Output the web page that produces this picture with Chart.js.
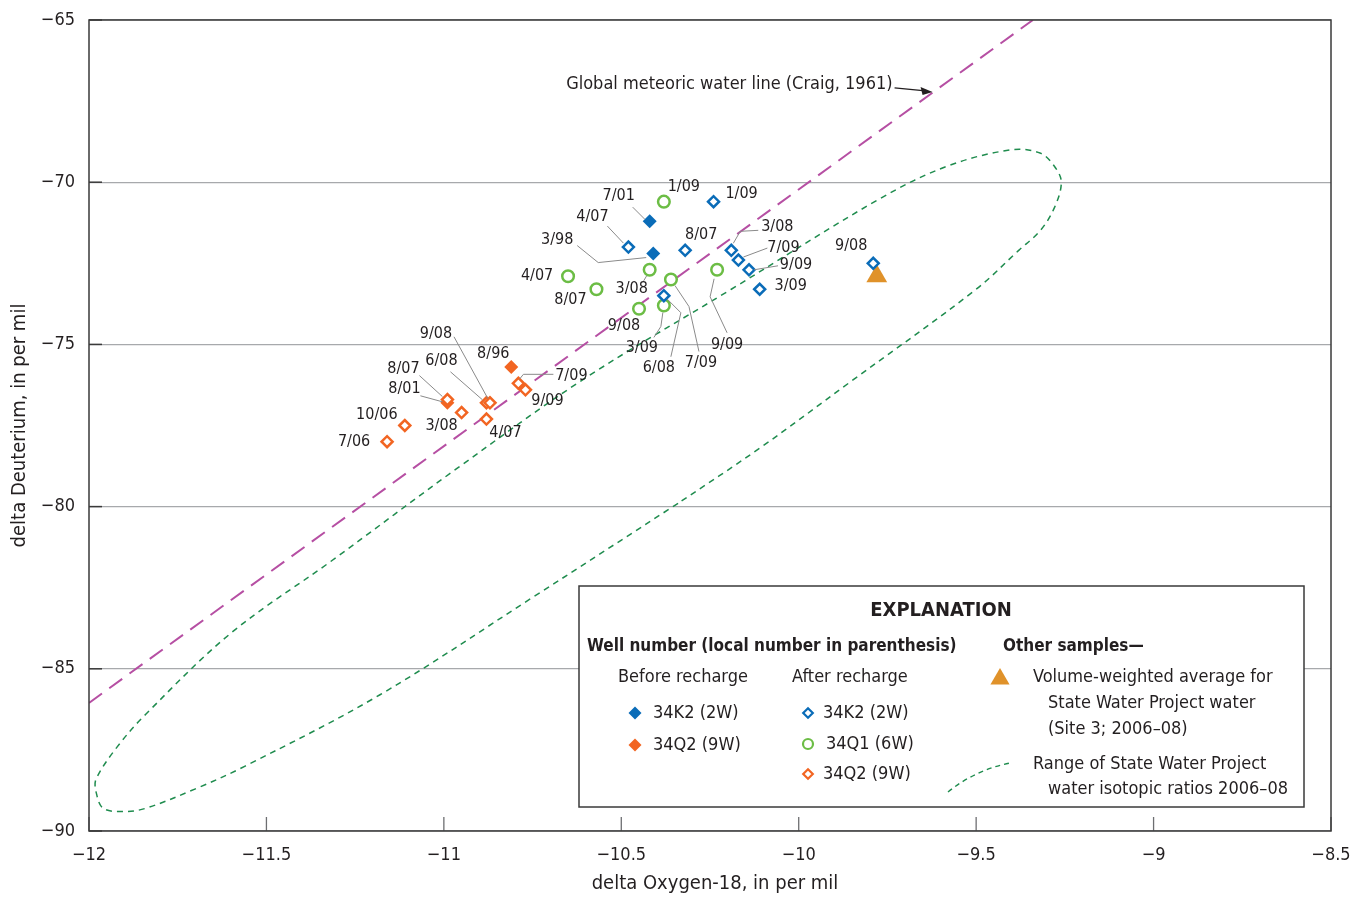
<!DOCTYPE html>
<html>
<head>
<meta charset="utf-8">
<script src="https://cdn.jsdelivr.net/npm/chart.js@4.4.1/dist/chart.umd.min.js"></script>
<style>
  html, body { margin: 0; padding: 0; background: #fff; }
</style>
</head>
<body>
<canvas id="isoChart" width="1355" height="897"></canvas>
<script>
// delta O-18 (x) / delta D (y), per mil

// 34K2 (2W) before recharge
const k2BeforeX = [-10.42, -10.41];
const k2BeforeY = [-71.2, -72.2];
const k2BeforeDates = ['7/01', '3/98'];

// 34K2 (2W) after recharge
const k2AfterX = [-10.24, -10.48, -10.32, -10.19, -10.17, -10.14, -10.11, -9.79, -10.38];
const k2AfterY = [-70.6, -72.0, -72.1, -72.1, -72.4, -72.7, -73.3, -72.5, -73.5];
const k2AfterDates = ['1/09', '4/07', '8/07', '3/08', '7/09', '9/09', '3/09', '9/08', '6/08'];

// 34Q1 (6W) after recharge
const q1AfterX = [-10.38, -10.65, -10.57, -10.42, -10.36, -10.23, -10.45, -10.38];
const q1AfterY = [-70.6, -72.9, -73.3, -72.7, -73.0, -72.7, -73.9, -73.8];
const q1AfterDates = ['1/09', '4/07', '8/07', '3/08', '7/09', '9/09', '9/08', '3/09'];

// 34Q2 (9W) before recharge
const q2BeforeX = [-10.81, -10.99];
const q2BeforeY = [-75.7, -76.8];
const q2BeforeDates = ['8/96', '8/01'];

// 34Q2 (9W) after recharge
const q2AfterX = [-10.79, -10.77, -10.99, -10.88, -10.87, -10.95, -10.88, -11.11, -11.16];
const q2AfterY = [-76.2, -76.4, -76.7, -76.8, -76.8, -77.1, -77.3, -77.5, -78.0];
const q2AfterDates = ['7/09', '9/09', '8/07', '6/08', '9/08', '3/08', '4/07', '10/06', '7/06'];

// State Water Project, volume-weighted average (Site 3; 2006-08)
const swpAvgX = [-9.78];
const swpAvgY = [-72.9];

// Global meteoric water line (Craig, 1961), end points as drawn
const gmwlX = [-12, -9.34];
const gmwlY = [-86.05, -65];

// Range of SWP isotopic ratios 2006-08 (outline)
const swpRangeX = [-10.34, -10.75, -11.18, -11.56, -11.70, -11.84, -11.90, -11.96, -11.98, -11.98,
  -11.92, -11.84, -11.60, -11.32, -10.96, -10.61, -10.19, -9.77, -9.58, -9.40, -9.32, -9.28,
  -9.26, -9.28, -9.32, -9.38, -9.50, -9.86, -10.11, -10.34];
const swpRangeY = [-79.9, -82.8, -85.8, -88.0, -88.7, -89.3, -89.4, -89.3, -88.8, -88.4,
  -87.4, -86.4, -83.9, -81.7, -78.8, -76.1, -73.3, -70.5, -69.5, -69.0, -69.1, -69.5,
  -70.0, -70.8, -71.5, -72.1, -73.3, -76.2, -78.2, -79.9];

const xTicks = [-12, -11.5, -11, -10.5, -10, -9.5, -9, -8.5];
const yTicks = [-90, -85, -80, -75, -70, -65];

// sample date labels: [series, index, dx, dy, leader offsets in px]
const dateLabels = [
  ['k2After', 0, 28, -8], ['k2After', 1, -36, -30, [[-21, -21], [-5, -4]]],
  ['k2After', 2, 16, -15], ['k2After', 3, 46, -23, [[27, -20], [9, -19], [2, -7]]],
  ['k2After', 4, 45, -12, [[29, -12], [5, -3]]], ['k2After', 5, 47, -5, [[29, -4], [5, 0]]],
  ['k2After', 6, 31, -3], ['k2After', 7, -22, -17],
  ['k2After', 8, -5, 72, [[7, 61], [17, 17], [3, 3]]],
  ['k2Before', 0, -31, -25, [[-17, -14], [-5, -2]]],
  ['k2Before', 1, -96, -14, [[-76, -8], [-55, 9], [-7, 4]]],
  ['q1After', 0, 20, -15], ['q1After', 1, -31, 0], ['q1After', 2, -26, 11],
  ['q1After', 3, -18, 19, [[-6, 11], [-3, 6]]],
  ['q1After', 4, 30, 83, [[28, 72], [18, 27], [4, 6]]],
  ['q1After', 5, 10, 75, [[10, 63], [-7, 27], [-3, 9]]],
  ['q1After', 6, -15, 17], ['q1After', 7, -22, 42, [[-10, 32], [-3, 21], [-1, 7]]],
  ['q2Before', 0, -18, -13], ['q2Before', 1, -43, -14, [[-27, -7], [-5, -1]]],
  ['q2After', 0, 53, -7, [[35, -9], [5, -9], [1, -4]]], ['q2After', 1, 22, 11],
  ['q2After', 2, -44, -31, [[-28, -24], [-5, -3]]],
  ['q2After', 3, -45, -42, [[-36, -31], [-4, -3]]],
  ['q2After', 4, -54, -69, [[-36, -66], [-2, -4]]],
  ['q2After', 5, -20, 13], ['q2After', 6, 19, 14], ['q2After', 7, -28, -11], ['q2After', 8, -33, 0]
];

const BLUE = '#0a6cb8';
const GREEN = '#6cbd45';
const ORANGE = '#f26522';
const GOLD = '#e0922a';
const MAGENTA = '#b64fa3';
const DKGREEN = '#1f8c4e';
const INK = '#231f20';
const FONT = "'Liberation Sans Narrow', 'DejaVu Sans Condensed', 'Liberation Sans', sans-serif";

function pts(xs, ys) {
  return xs.map((x, i) => ({ x: x, y: ys[i] }));
}

const series = {
  k2Before: { x: k2BeforeX, y: k2BeforeY, d: k2BeforeDates },
  k2After: { x: k2AfterX, y: k2AfterY, d: k2AfterDates },
  q1After: { x: q1AfterX, y: q1AfterY, d: q1AfterDates },
  q2Before: { x: q2BeforeX, y: q2BeforeY, d: q2BeforeDates },
  q2After: { x: q2AfterX, y: q2AfterY, d: q2AfterDates }
};

function minus(v) {
  return String(v).replace('-', '\u2212');
}

function marker(ctx, style, x, y, r, color, filled) {
  ctx.save();
  ctx.beginPath();
  if (style === 'diamond') {
    ctx.moveTo(x, y - r); ctx.lineTo(x + r, y); ctx.lineTo(x, y + r); ctx.lineTo(x - r, y); ctx.closePath();
  } else if (style === 'circle') {
    ctx.arc(x, y, r, 0, Math.PI * 2);
  } else {
    ctx.moveTo(x, y - r); ctx.lineTo(x + r * 0.87, y + r * 0.5); ctx.lineTo(x - r * 0.87, y + r * 0.5); ctx.closePath();
  }
  if (filled) {
    ctx.fillStyle = color; ctx.fill();
  } else {
    ctx.fillStyle = '#fff'; ctx.fill();
    ctx.lineWidth = 2.2; ctx.strokeStyle = color; ctx.stroke();
  }
  ctx.restore();
}

const decorPlugin = {
  id: 'decor',
  beforeDatasetsDraw(chart) {
    const ctx = chart.ctx;
    const a = chart.chartArea;
    const xs = chart.scales.x;
    ctx.save();
    ctx.strokeStyle = '#6d6e71';
    ctx.lineWidth = 1.3;
    xTicks.forEach(v => {
      const px = xs.getPixelForValue(v);
      ctx.beginPath(); ctx.moveTo(px, a.bottom); ctx.lineTo(px, a.bottom - 14); ctx.stroke();
    });
    ctx.restore();
  },
  afterDraw(chart) {
    const ctx = chart.ctx;
    const a = chart.chartArea;
    const xs = chart.scales.x;
    const ys = chart.scales.y;

    // left inward ticks and frame
    ctx.save();
    ctx.strokeStyle = '#3a3a3a';
    ctx.lineWidth = 1.5;
    yTicks.forEach(v => {
      const py = ys.getPixelForValue(v);
      ctx.beginPath(); ctx.moveTo(a.left, py); ctx.lineTo(a.left + 13, py); ctx.stroke();
    });
    ctx.strokeRect(a.left, a.top, a.right - a.left, a.bottom - a.top);
    ctx.restore();

    // date labels with leader lines
    ctx.save();
    ctx.font = '16px ' + FONT;
    ctx.fillStyle = INK;
    ctx.textAlign = 'center';
    ctx.textBaseline = 'middle';
    dateLabels.forEach(l => {
      const s = series[l[0]];
      const px = xs.getPixelForValue(s.x[l[1]]);
      const py = ys.getPixelForValue(s.y[l[1]]);
      if (l[4]) {
        ctx.strokeStyle = '#8a8a8a';
        ctx.lineWidth = 1;
        ctx.beginPath();
        l[4].forEach((o, j) => {
          if (j === 0) ctx.moveTo(px + o[0], py + o[1]);
          else ctx.lineTo(px + o[0], py + o[1]);
        });
        ctx.stroke();
      }
      ctx.fillText(s.d[l[1]], px + l[2], py + l[3]);
    });
    ctx.restore();

    // GMWL callout with arrow pointing at the line
    const tipVal = -9.62;
    const t = (tipVal - gmwlX[0]) / (gmwlX[1] - gmwlX[0]);
    const tipX = xs.getPixelForValue(tipVal);
    const tipY = ys.getPixelForValue(gmwlY[0] + t * (gmwlY[1] - gmwlY[0]));
    ctx.save();
    ctx.font = '18px ' + FONT;
    ctx.fillStyle = INK;
    ctx.textAlign = 'right';
    ctx.textBaseline = 'middle';
    ctx.fillText('Global meteoric water line (Craig, 1961)', tipX - 41, tipY - 8);
    ctx.strokeStyle = INK;
    ctx.lineWidth = 1.2;
    ctx.beginPath(); ctx.moveTo(tipX - 39, tipY - 4); ctx.lineTo(tipX - 8, tipY - 1); ctx.stroke();
    ctx.fillStyle = INK;
    ctx.beginPath();
    ctx.moveTo(tipX - 1, tipY); ctx.lineTo(tipX - 13, tipY - 5); ctx.lineTo(tipX - 11, tipY + 3); ctx.closePath();
    ctx.fill();
    ctx.restore();

    // axis titles
    ctx.save();
    ctx.font = '20px ' + FONT;
    ctx.fillStyle = INK;
    ctx.textAlign = 'center';
    ctx.textBaseline = 'middle';
    ctx.fillText('delta Oxygen-18, in per mil', (a.left + a.right) / 2 + 5, 884);
    ctx.translate(20, (a.top + a.bottom) / 2);
    ctx.rotate(-Math.PI / 2);
    ctx.fillText('delta Deuterium, in per mil', 0, 0);
    ctx.restore();

    // explanation box
    ctx.save();
    ctx.fillStyle = '#fff';
    ctx.fillRect(579, 586, 725, 221);
    ctx.strokeStyle = '#3a3a3a';
    ctx.lineWidth = 1.5;
    ctx.strokeRect(579, 586, 725, 221);
    ctx.fillStyle = INK;
    ctx.textBaseline = 'middle';
    ctx.textAlign = 'center';
    ctx.font = 'bold 20px ' + FONT;
    ctx.fillText('EXPLANATION', 941, 611);
    ctx.textAlign = 'left';
    ctx.font = 'bold 17px ' + FONT;
    ctx.fillText('Well number (local number in parenthesis)', 587, 647);
    ctx.fillText('Other samples\u2014', 1003, 647);
    ctx.font = '18px ' + FONT;
    ctx.fillText('Before recharge', 618, 677);
    ctx.fillText('After recharge', 792, 677);
    ctx.fillText('34K2 (2W)', 653, 713);
    ctx.fillText('34Q2 (9W)', 653, 745);
    ctx.fillText('34K2 (2W)', 823, 713);
    ctx.fillText('34Q1 (6W)', 826, 744);
    ctx.fillText('34Q2 (9W)', 823, 774);
    ctx.fillText('Volume-weighted average for', 1033, 677);
    ctx.fillText('State Water Project water', 1048, 703);
    ctx.fillText('(Site 3; 2006\u201308)', 1048, 729);
    ctx.fillText('Range of State Water Project', 1033, 764);
    ctx.fillText('water isotopic ratios 2006\u201308', 1048, 789);
    marker(ctx, 'diamond', 635, 713, 6.5, BLUE, true);
    marker(ctx, 'diamond', 635, 745, 6.5, ORANGE, true);
    marker(ctx, 'diamond', 808, 713, 4.8, BLUE, false);
    marker(ctx, 'circle', 808, 744, 5, GREEN, false);
    marker(ctx, 'diamond', 808, 774, 4.8, ORANGE, false);
    marker(ctx, 'triangle', 1000, 679, 11, GOLD, true);
    ctx.strokeStyle = DKGREEN;
    ctx.lineWidth = 1.4;
    ctx.setLineDash([5, 4]);
    ctx.beginPath();
    ctx.moveTo(948, 792);
    ctx.quadraticCurveTo(975, 770, 1010, 763);
    ctx.stroke();
    ctx.restore();
  }
};

const ctx = document.getElementById('isoChart').getContext('2d');
const chart = new Chart(ctx, {
  type: 'scatter',
  data: {
    datasets: [
      {
        label: 'SWP range',
        type: 'line',
        data: pts(swpRangeX, swpRangeY),
        borderColor: DKGREEN,
        borderWidth: 1.5,
        borderDash: [6, 5],
        pointRadius: 0,
        tension: 0.35,
        fill: false,
        order: 10
      },
      {
        label: 'GMWL',
        type: 'line',
        data: pts(gmwlX, gmwlY),
        borderColor: MAGENTA,
        borderWidth: 2,
        borderDash: [16, 9],
        pointRadius: 0,
        fill: false,
        order: 9
      },
      {
        label: 'SWP average',
        data: pts(swpAvgX, swpAvgY),
        pointStyle: 'triangle',
        pointRadius: 12,
        backgroundColor: GOLD,
        borderColor: GOLD,
        borderWidth: 0,
        order: 5
      },
      {
        label: '34K2 (2W) before',
        data: pts(k2BeforeX, k2BeforeY),
        pointStyle: 'rectRot',
        pointRadius: 7,
        backgroundColor: BLUE,
        borderColor: BLUE,
        borderWidth: 0,
        order: 2
      },
      {
        label: '34K2 (2W) after',
        data: pts(k2AfterX, k2AfterY),
        pointStyle: 'rectRot',
        pointRadius: 5.5,
        backgroundColor: '#fff',
        borderColor: BLUE,
        borderWidth: 2.5,
        order: 1
      },
      {
        label: '34Q1 (6W) after',
        data: pts(q1AfterX, q1AfterY),
        pointStyle: 'circle',
        pointRadius: 5.8,
        backgroundColor: '#fff',
        borderColor: GREEN,
        borderWidth: 2.5,
        order: 3
      },
      {
        label: '34Q2 (9W) before',
        data: pts(q2BeforeX, q2BeforeY),
        pointStyle: 'rectRot',
        pointRadius: 7,
        backgroundColor: ORANGE,
        borderColor: ORANGE,
        borderWidth: 0,
        order: 4
      },
      {
        label: '34Q2 (9W) after',
        data: pts(q2AfterX, q2AfterY),
        pointStyle: 'rectRot',
        pointRadius: 5.5,
        backgroundColor: '#fff',
        borderColor: ORANGE,
        borderWidth: 2.5,
        order: 0
      }
    ]
  },
  options: {
    responsive: false,
    animation: false,
    events: [],
    layout: { padding: { top: 20, right: 24, left: 0, bottom: 0 } },
    plugins: {
      legend: { display: false },
      tooltip: { enabled: false }
    },
    scales: {
      x: {
        type: 'linear',
        min: -12,
        max: -8.5,
        afterBuildTicks: s => { s.ticks = xTicks.map(v => ({ value: v })); },
        afterFit: s => { s.height = 66; s.paddingLeft = 0; s.paddingRight = 0; },
        grid: { display: false, drawTicks: false },
        border: { display: false },
        ticks: {
          padding: 14,
          color: INK,
          font: { family: FONT, size: 18 },
          callback: v => minus(v)
        }
      },
      y: {
        type: 'linear',
        min: -90,
        max: -65,
        afterBuildTicks: s => { s.ticks = yTicks.map(v => ({ value: v })); },
        afterFit: s => { s.width = 89; s.paddingTop = 0; s.paddingBottom = 0; },
        grid: { color: '#a7a9ac', lineWidth: 1.3, drawTicks: false },
        border: { display: false },
        ticks: {
          padding: 14,
          color: INK,
          font: { family: FONT, size: 18 },
          callback: v => minus(v)
        }
      }
    }
  },
  plugins: [decorPlugin]
});
</script>
</body>
</html>
